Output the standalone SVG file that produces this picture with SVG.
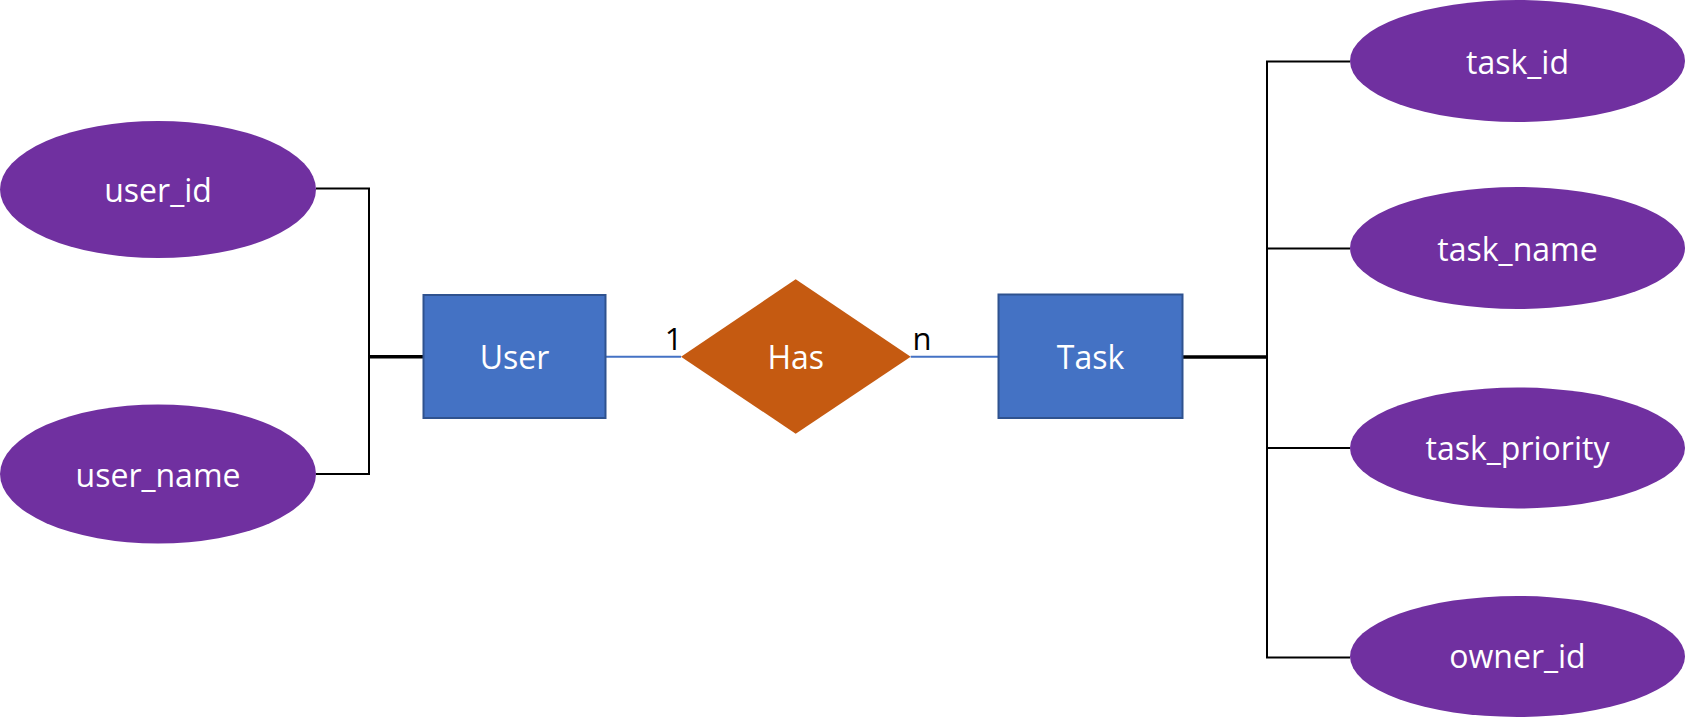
<svg xmlns="http://www.w3.org/2000/svg" width="1685" height="717" viewBox="0 0 1685 717">
<style>
.attr{fill:#7030A0;}
.ent{fill:#4472C4;stroke:#2F528F;stroke-width:2;}
.rel{fill:#C55A11;}
.lbl{font-family:"Open Sans","Noto Sans","Liberation Sans",sans-serif;font-size:32px;fill:#FFFFFF;text-anchor:middle;}
.card{font-family:"Open Sans","Noto Sans","Liberation Sans",sans-serif;font-size:31px;fill:#000000;text-anchor:middle;}
.ln{fill:none;stroke:#000000;stroke-width:2;}
.thick{fill:none;stroke:#000000;stroke-width:3.5;}
.blue{fill:none;stroke:#4472C4;stroke-width:2;}
</style>
<rect width="1685" height="717" fill="#FFFFFF"/>
<g id="connectors">
<polyline class="ln" points="316,188.5 369,188.5 369,474 316,474"/>
<line class="thick" x1="369" y1="356.7" x2="423.5" y2="356.7"/>
<line class="blue" x1="605.5" y1="356.7" x2="681" y2="356.7"/>
<line class="blue" x1="910.7" y1="356.7" x2="998.5" y2="356.7"/>
<line class="thick" x1="1182.5" y1="357" x2="1267" y2="357"/>
<polyline class="ln" points="1350,61.5 1267,61.5 1267,657.5 1350,657.5"/>
<line class="ln" x1="1267" y1="248.5" x2="1350" y2="248.5"/>
<line class="ln" x1="1267" y1="448" x2="1350" y2="448"/>
</g>
<g id="user_id">
<ellipse class="attr" cx="158" cy="189.5" rx="158" ry="68.5"/>
<text class="lbl" x="158" y="201.5">user_id</text>
</g>
<g id="user_name">
<ellipse class="attr" cx="158" cy="474" rx="158" ry="69.5"/>
<text class="lbl" x="158" y="486.5">user_name</text>
</g>
<g id="User">
<rect class="ent" x="423.5" y="295" width="182" height="123"/>
<text class="lbl" x="514.5" y="368.5">User</text>
</g>
<g id="Has">
<polygon class="rel" points="681,356.7 795.7,279.3 910.7,356.7 795.7,433.7"/>
<text class="lbl" x="795.7" y="368.5">Has</text>
</g>
<g id="Task">
<rect class="ent" x="998.5" y="294.5" width="184" height="123.5"/>
<text class="lbl" x="1090.5" y="369">Task</text>
</g>
<g id="cardinalities">
<text class="card" x="673.5" y="350">1</text>
<text class="card" x="922" y="350">n</text>
</g>
<g id="task_id">
<ellipse class="attr" cx="1517.5" cy="61" rx="167.5" ry="61"/>
<text class="lbl" x="1517.5" y="73.5">task_id</text>
</g>
<g id="task_name">
<ellipse class="attr" cx="1517.5" cy="248" rx="167.5" ry="61"/>
<text class="lbl" x="1517.5" y="260.5">task_name</text>
</g>
<g id="task_priority">
<ellipse class="attr" cx="1517.5" cy="448" rx="167.5" ry="60.5"/>
<text class="lbl" x="1517.5" y="459.5">task_priority</text>
</g>
<g id="owner_id">
<ellipse class="attr" cx="1517.5" cy="656.5" rx="167.5" ry="60.5"/>
<text class="lbl" x="1517.5" y="668">owner_id</text>
</g>
</svg>
